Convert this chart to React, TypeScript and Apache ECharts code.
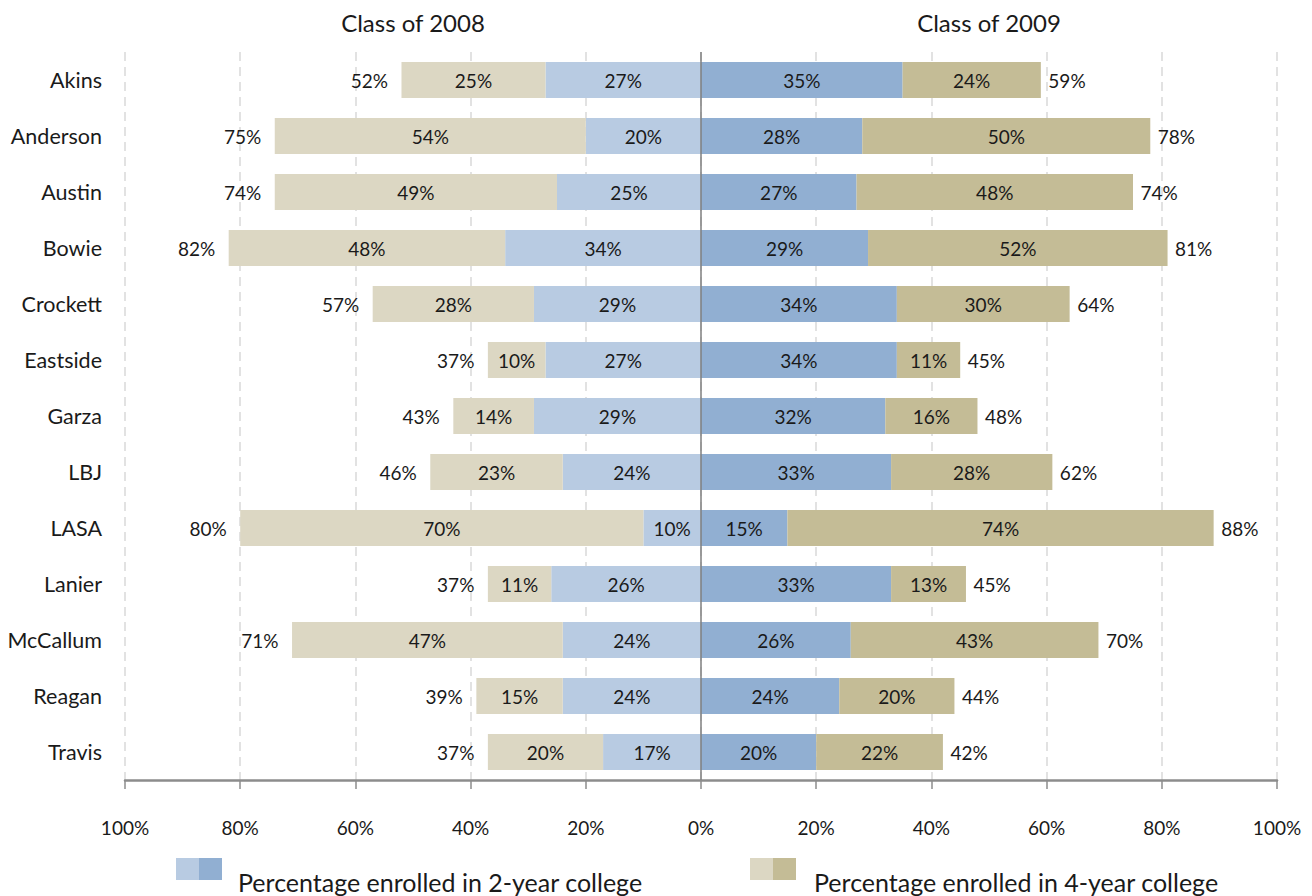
import React, { useEffect, useRef } from "react";
import * as echarts from "echarts";

const schools = ["Akins", "Anderson", "Austin", "Bowie", "Crockett", "Eastside", "Garza", "LBJ", "LASA", "Lanier", "McCallum", "Reagan", "Travis"];
const twoYear2008 = [27, 20, 25, 34, 29, 27, 29, 24, 10, 26, 24, 24, 17];
const fourYear2008 = [25, 54, 49, 48, 28, 10, 14, 23, 70, 11, 47, 15, 20];
const total2008 = [52, 75, 74, 82, 57, 37, 43, 46, 80, 37, 71, 39, 37];
const twoYear2009 = [35, 28, 27, 29, 34, 34, 32, 33, 15, 33, 26, 24, 20];
const fourYear2009 = [24, 50, 48, 52, 30, 11, 16, 28, 74, 13, 43, 20, 22];
const total2009 = [59, 78, 74, 81, 64, 45, 48, 62, 88, 45, 70, 44, 42];
const xTicks = [-100, 100, 20];

const FONT = "Lato";
const C_2YR_08 = "#b8cbe2";
const C_2YR_09 = "#91afd2";
const C_4YR_08 = "#dcd7c3";
const C_4YR_09 = "#c4bc96";

export default function App() {
  const ref = useRef<HTMLDivElement>(null);
  useEffect(() => {
    document.body.style.margin = "0";
    const chart = echarts.init(ref.current!, null, { renderer: "svg" });
    const pct = (p: any) => Math.abs(p.value) + "%";
    const innerLabel = { show: true, position: "inside", formatter: pct, fontSize: 19, color: "#1a1a1a", fontFamily: FONT };
    const totalLabel = (pos: string, dist: number, totals: number[]) => ({
      show: true,
      position: pos,
      distance: dist,
      fontSize: 19,
      color: "#1a1a1a",
      opacity: 1,
      textBorderWidth: 0,
      fontFamily: FONT,
      formatter: (p: any) => totals[p.dataIndex] + "%",
    });
    chart.setOption({
      animation: false,
      textStyle: { fontFamily: FONT },
      grid: { left: 125, right: 35, top: 52, bottom: 116, containLabel: false },
      xAxis: {
        type: "value",
        min: xTicks[0],
        max: xTicks[1],
        interval: xTicks[2],
        axisLabel: { formatter: (v: number) => Math.abs(v) + "%", fontSize: 19, color: "#1a1a1a", margin: 38, fontFamily: FONT },
        axisLine: { show: true, lineStyle: { color: "#8c8c8c", width: 2.5 } },
        axisTick: { show: true, length: 9, lineStyle: { color: "#8c8c8c", width: 1.5 } },
        splitLine: { show: true, lineStyle: { color: "#d9d9d9", type: [9, 6], width: 1.5 } },
      },
      yAxis: {
        type: "category",
        inverse: true,
        data: schools,
        axisLine: { show: false },
        axisTick: { show: false },
        axisLabel: { fontSize: 21.5, color: "#1a1a1a", margin: 23, fontFamily: FONT },
      },
      graphic: [
        { type: "text", x: 413, y: 22, style: { text: "Class of 2008", fontSize: 24, fontFamily: FONT, fill: "#1a1a1a", textAlign: "center", textVerticalAlign: "middle" } },
        { type: "text", x: 989, y: 22, style: { text: "Class of 2009", fontSize: 24, fontFamily: FONT, fill: "#1a1a1a", textAlign: "center", textVerticalAlign: "middle" } },
        { type: "rect", shape: { x: 176, y: 858, width: 23, height: 22 }, style: { fill: C_2YR_08 } },
        { type: "rect", shape: { x: 199, y: 858, width: 23, height: 22 }, style: { fill: C_2YR_09 } },
        { type: "text", x: 238, y: 882, style: { text: "Percentage enrolled in 2-year college", fontSize: 25, fontFamily: FONT, fill: "#1a1a1a", textAlign: "left", textVerticalAlign: "middle" } },
        { type: "rect", shape: { x: 750, y: 858, width: 23, height: 22 }, style: { fill: C_4YR_08 } },
        { type: "rect", shape: { x: 773, y: 858, width: 23, height: 22 }, style: { fill: C_4YR_09 } },
        { type: "text", x: 814, y: 882, style: { text: "Percentage enrolled in 4-year college", fontSize: 25, fontFamily: FONT, fill: "#1a1a1a", textAlign: "left", textVerticalAlign: "middle" } },
      ],
      series: [
        {
          name: "2008 2-year",
          type: "bar",
          stack: "all",
          barWidth: 36,
          data: twoYear2008.map((v) => -v),
          itemStyle: { color: C_2YR_08 },
          label: innerLabel,
          z: 2,
        },
        {
          name: "2008 4-year",
          type: "bar",
          stack: "all",
          barWidth: 36,
          data: fourYear2008.map((v) => -v),
          itemStyle: { color: C_4YR_08 },
          label: innerLabel,
          z: 2,
        },
        {
          name: "2009 2-year",
          type: "bar",
          stack: "all",
          barWidth: 36,
          data: twoYear2009,
          itemStyle: { color: C_2YR_09 },
          label: innerLabel,
          z: 2,
          markLine: {
            silent: true,
            symbol: "none",
            label: { show: false },
            lineStyle: { color: "#7f7f7f", width: 1.5, type: "solid" },
            data: [{ xAxis: 0 }],
            z: 5,
          },
        },
        {
          name: "2009 4-year",
          type: "bar",
          stack: "all",
          barWidth: 36,
          data: fourYear2009,
          itemStyle: { color: C_4YR_09 },
          label: innerLabel,
          z: 2,
        },
        {
          name: "2008 total",
          type: "scatter",
          symbol: "rect",
          symbolSize: 1,
          itemStyle: { color: "#ffffff", opacity: 1 },
          data: schools.map((_, i) => [-(twoYear2008[i] + fourYear2008[i]), i]),
          label: totalLabel("left", 13, total2008),
          z: 1,
        },
        {
          name: "2009 total",
          type: "scatter",
          symbol: "rect",
          symbolSize: 1,
          itemStyle: { color: "#ffffff", opacity: 1 },
          data: schools.map((_, i) => [twoYear2009[i] + fourYear2009[i], i]),
          label: totalLabel("right", 7, total2009),
          z: 1,
        },
      ],
    });
    return () => chart.dispose();
  }, []);
  return <div ref={ref} style={{ width: 1312, height: 896 }} />;
}
